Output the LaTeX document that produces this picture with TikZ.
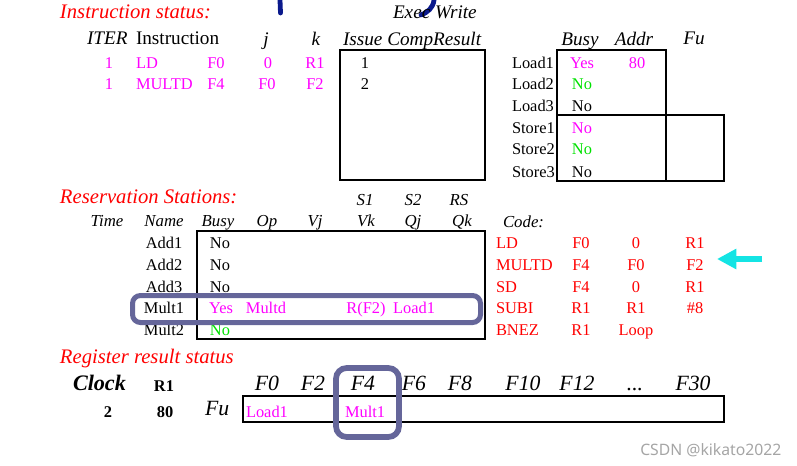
\documentclass[tikz,border=0pt]{standalone}
\usepackage{fontspec}
\setmainfont{Liberation Serif}
\newfontfamily\wmfont{Noto Sans}
\usetikzlibrary{arrows.meta}
\definecolor{mag}{RGB}{255,0,255}
\definecolor{grn}{RGB}{0,225,0}
\definecolor{rd}{RGB}{255,0,0}
\definecolor{slate}{RGB}{101,102,154}
\definecolor{cyn}{RGB}{20,228,228}
\definecolor{ink}{RGB}{10,25,140}
\definecolor{wm}{RGB}{165,165,165}
\newcommand\fsz[1]{\fontsize{#1}{#1}\selectfont}
\tikzset{
  txt/.style={anchor=base, inner sep=0pt, outer sep=0pt, font=\fsz{12.3}},
  txl/.style={txt, anchor=base west},
  hdr/.style={txt, font=\fsz{14.4}\itshape},
  hdrl/.style={hdr, anchor=base west},
  shdr/.style={txt, font=\fsz{12.6}\itshape},
  ttl/.style={txl, font=\fsz{15.5}\itshape, text=rd},
  reg/.style={txt, font=\fsz{16.3}\itshape},
  bld/.style={txt, font=\fsz{12.3}\bfseries},
  box/.style={draw=black, line width=0.9pt},
  hl/.style={draw=slate, line width=3.75pt, rounded corners=6pt},
  pen/.style={draw=ink, line width=3.6pt, line cap=round},
}
\begin{document}
\begin{tikzpicture}[x=0.75pt,y=-0.75pt]
\useasboundingbox (0,0) rectangle (797,465);

% pen scribbles
\draw[pen] (280,0) -- (280.5,13);
\draw[pen] (434,0) .. controls (433,8) and (428,12) .. (421,15);

% ---------------- Instruction status
\node[ttl] (tIS) at (60,18) {Instruction status:};
\node[hdrl] (hEW) at (393,18) {Exec Write};
\node[hdrl] (hITER) at (87,44) {ITER};
\node[txl, font=\fsz{14.4}] (hInstr) at (136,44) {Instruction};
\node[hdr] (hj) at (266,45) {j};
\node[hdr] (hk) at (316,45) {k};
\node[hdrl] (hICR) at (343,45) {Issue CompResult};

\node[txt, text=mag] (i1it) at (109,68) {1};
\node[txl, text=mag] (i1op) at (136,68) {LD};
\node[txt, text=mag] (i1d) at (216,68) {F0};
\node[txt, text=mag] (i1j) at (268,68) {0};
\node[txt, text=mag] (i1k) at (315,68) {R1};
\node[txt] (i1is) at (365,68) {1};

\node[txt, text=mag] (i2it) at (109,89) {1};
\node[txl, text=mag] (i2op) at (136,89) {MULTD};
\node[txt, text=mag] (i2d) at (216,89) {F4};
\node[txt, text=mag] (i2j) at (267,89) {F0};
\node[txt, text=mag] (i2k) at (315,89) {F2};
\node[txt] (i2is) at (365,89) {2};

\draw[box] (340,50) rectangle (485,180);

% ---------------- Load / store buffers
\node[hdr] (hBusy) at (580,45) {Busy};
\node[hdr] (hAddr) at (634,45) {Addr};
\node[hdr] (hFu) at (694,44) {Fu};

\node[txl] (L1) at (512,68) {Load1};
\node[txl] (L2) at (512,89) {Load2};
\node[txl] (L3) at (512,111) {Load3};
\node[txl] (S1) at (512,133) {Store1};
\node[txl] (S2) at (512,154) {Store2};
\node[txl] (S3) at (512,177) {Store3};

\node[txt, text=mag] (L1b) at (582,68) {Yes};
\node[txt, text=mag] (L1a) at (637,68) {80};
\node[txt, text=grn] (L2b) at (582,89) {No};
\node[txt] (L3b) at (582,111) {No};
\node[txt, text=mag] (S1b) at (582,133) {No};
\node[txt, text=grn] (S2b) at (582,154) {No};
\node[txt] (S3b) at (582,177) {No};

\draw[box] (557,50) rectangle (666,181);
\draw[box] (557,115) -- (724,115) -- (724,181) -- (666,181);

% ---------------- Reservation stations
\node[ttl] (tRS) at (60,203) {Reservation Stations:};
\node[shdr] (hS1) at (365,205) {S1};
\node[shdr] (hS2) at (413,205) {S2};
\node[shdr] (hRS) at (459,205) {RS};
\node[shdr] (hTime) at (107,226) {Time};
\node[shdr] (hName) at (164,226) {Name};
\node[shdr] (hBusy2) at (218,226) {Busy};
\node[shdr] (hOp) at (267,226) {Op};
\node[shdr] (hVj) at (315,226) {Vj};
\node[shdr] (hVk) at (366,226) {Vk};
\node[shdr] (hQj) at (413,226) {Qj};
\node[shdr] (hQk) at (462,226) {Qk};

\node[txt] (a1) at (164,248) {Add1};
\node[txt] (a2) at (164,270) {Add2};
\node[txt] (a3) at (164,292) {Add3};
\node[txt] (m1) at (164,313) {Mult1};
\node[txt] (m2) at (164,335) {Mult2};

\node[txt] (a1b) at (220,248) {No};
\node[txt] (a2b) at (220,270) {No};
\node[txt] (a3b) at (220,292) {No};
\node[txt, text=mag] (m1b) at (221,313) {Yes};
\node[txt, text=grn] (m2b) at (220,335) {No};
\node[txt, text=mag] (m1op) at (266,313) {Multd};
\node[txt, text=mag] (m1vk) at (366,313) {R(F2)};
\node[txt, text=mag] (m1qj) at (414,313) {Load1};

\draw[box] (197,231) rectangle (485,339);

% ---------------- Code
\node[txl, font=\fsz{12.6}\itshape] (hCode) at (503,227) {Code:};
\node[txl, text=rd] (c1) at (496,248) {LD};
\node[txt, text=rd] (c1a) at (581,248) {F0};
\node[txt, text=rd] (c1b) at (636,248) {0};
\node[txt, text=rd] (c1c) at (695,248) {R1};
\node[txl, text=rd] (c2) at (496,270) {MULTD};
\node[txt, text=rd] (c2a) at (581,270) {F4};
\node[txt, text=rd] (c2b) at (636,270) {F0};
\node[txt, text=rd] (c2c) at (695,270) {F2};
\node[txl, text=rd] (c3) at (496,292) {SD};
\node[txt, text=rd] (c3a) at (581,292) {F4};
\node[txt, text=rd] (c3b) at (636,292) {0};
\node[txt, text=rd] (c3c) at (695,292) {R1};
\node[txl, text=rd] (c4) at (496,313) {SUBI};
\node[txt, text=rd] (c4a) at (581,313) {R1};
\node[txt, text=rd] (c4b) at (636,313) {R1};
\node[txt, text=rd] (c4c) at (695,313) {\#8};
\node[txl, text=rd] (c5) at (496,335) {BNEZ};
\node[txt, text=rd] (c5a) at (581,335) {R1};
\node[txt, text=rd] (c5b) at (636,335) {Loop};

\coordinate (arT) at (762,259);
\coordinate (arH) at (717,259);
\draw[cyn, line width=5pt, -{Triangle[width=14.5pt,length=14.5pt]}] (arT) -- (arH);

% ---------------- Register result status
\node[ttl] (tRR) at (60,363) {Register result status};
\node[txl, font=\fsz{16.6}\bfseries\itshape] (hClock) at (73,390) {Clock};
\node[bld] (hR1) at (164,391) {R1};
\node[bld] (vClk) at (108,417) {2};
\node[bld] (vR1) at (165,417) {80};
\node[txl, font=\fsz{16.3}\itshape] (hFu2) at (205,415) {Fu};

\node[reg] (F0) at (267,390) {F0};
\node[reg] (F2) at (313,390) {F2};
\node[reg] (F4) at (363,390) {F4};
\node[reg] (F6) at (414,390) {F6};
\node[reg] (F8) at (460,390) {F8};
\node[reg] (F10) at (523,390) {F10};
\node[reg] (F12) at (577,390) {F12};
\node[reg] (Fdots) at (635,390) {...};
\node[reg] (F30) at (693,390) {F30};

\draw[box] (243,396) rectangle (724,422);
\node[txl, text=mag] (rF0) at (246,417) {Load1};
\node[txl, text=mag] (rF4) at (345,417) {Mult1};

% highlights
\draw[hl] (132.5,295.5) rectangle (480.5,322.5);
\draw[hl, line width=4.3pt, rounded corners=8pt] (336,368) rectangle (399,437);

% watermark
\node[anchor=base west, inner sep=0pt, font=\wmfont\fsz{11.8}, text=wm] (wmk) at (640,455) {CSDN @kikato2022};
\end{tikzpicture}
\end{document}
